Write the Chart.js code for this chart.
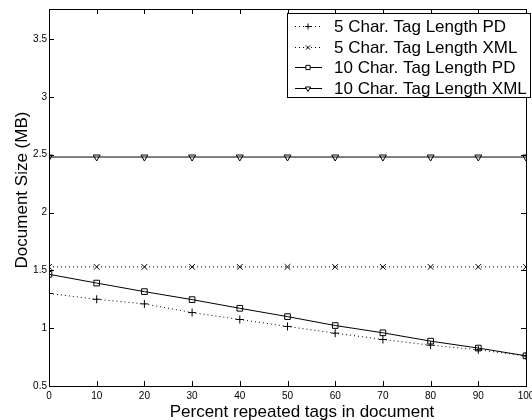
<!DOCTYPE html>
<html>
<head>
<meta charset="utf-8">
<script src="https://cdn.jsdelivr.net/npm/chart.js@4"></script>
<style>
  html, body { margin: 0; padding: 0; background: #fff; }
  #wrap { width: 532px; height: 420px; }
</style>
</head>
<body>
<div id="wrap"><canvas id="grafico" width="532" height="420"></canvas></div>
<script>
// datos
const porcentajes = [0, 10, 20, 30, 40, 50, 60, 70, 80, 90, 100];
const pd5 = [1.30, 1.25, 1.21, 1.135, 1.075, 1.015, 0.957, 0.902, 0.853, 0.813, 0.76];
const xml5 = [1.53, 1.53, 1.53, 1.53, 1.53, 1.53, 1.53, 1.53, 1.53, 1.53, 1.53];
const pd10 = [1.466, 1.39, 1.316, 1.247, 1.172, 1.10, 1.023, 0.96, 0.888, 0.828, 0.761];
const xml10 = [2.48, 2.48, 2.48, 2.48, 2.48, 2.48, 2.48, 2.48, 2.48, 2.48, 2.48];
const etiquetas = ['5 Char. Tag Length PD', '5 Char. Tag Length XML', '10 Char. Tag Length PD', '10 Char. Tag Length XML'];
const ticksY = [0.5, 1, 1.5, 2, 2.5, 3, 3.5];
const tituloX = 'Percent repeated tags in document';
const tituloY = 'Document Size (MB)';

const fuente = 'Liberation Sans, Arial, Helvetica, sans-serif';

function serie(label, valores, punto, dash, rot) {
  return {
    label,
    data: porcentajes.map((x, i) => ({ x, y: valores[i] })),
    borderColor: '#000',
    backgroundColor: 'rgba(0,0,0,0)',
    borderWidth: 1,
    borderDash: dash,
    pointStyle: punto,
    pointRotation: rot || 0,
    pointRadius: 4,
    pointBorderWidth: 1,
    pointBorderColor: '#000',
    pointBackgroundColor: 'rgba(0,0,0,0)',
    tension: 0
  };
}

// marco, ticks interiores, titulos y leyenda
const marco = {
  id: 'marco',
  afterDraw(chart) {
    const { ctx, chartArea: a, scales } = chart;
    ctx.save();
    ctx.strokeStyle = '#000';
    ctx.lineWidth = 1;
    ctx.strokeRect(a.left + 0.5, a.top + 0.5, a.right - a.left, a.bottom - a.top);
    ctx.beginPath();
    scales.x.ticks.forEach(t => {
      const px = Math.round(scales.x.getPixelForValue(t.value)) + 0.5;
      ctx.moveTo(px, a.bottom); ctx.lineTo(px, a.bottom - 5);
      ctx.moveTo(px, a.top); ctx.lineTo(px, a.top + 5);
    });
    scales.y.ticks.forEach(t => {
      const py = Math.round(scales.y.getPixelForValue(t.value)) + 0.5;
      ctx.moveTo(a.left, py); ctx.lineTo(a.left + 5, py);
      ctx.moveTo(a.right, py); ctx.lineTo(a.right - 5, py);
    });
    ctx.stroke();

    // titulos de ejes
    ctx.fillStyle = '#000';
    ctx.font = '17px ' + fuente;
    ctx.textAlign = 'center';
    ctx.textBaseline = 'alphabetic';
    ctx.fillText(tituloX, 302, 417);
    ctx.save();
    ctx.translate(26.5, 190);
    ctx.rotate(-Math.PI / 2);
    ctx.fillText(tituloY, 0, 0);
    ctx.restore();

    // leyenda
    const bx = 287, by = 13, bw = 243, bh = 84;
    ctx.textAlign = 'left';
    ctx.fillStyle = '#fff';
    ctx.fillRect(bx, by, bw, bh);
    ctx.strokeRect(bx + 0.5, by + 0.5, bw, bh);
    ctx.textBaseline = 'middle';
    chart.data.datasets.forEach((ds, i) => {
      const y = Math.round(by + 13 + i * 20.5) + 0.5;
      ctx.strokeStyle = '#000';
      ctx.setLineDash(ds.borderDash || []);
      ctx.beginPath();
      ctx.moveTo(bx + 8, y);
      ctx.lineTo(bx + 35, y);
      ctx.stroke();
      ctx.setLineDash([]);
      ctx.fillStyle = '#fff';
      Chart.helpers.drawPoint(ctx, {
        pointStyle: ds.pointStyle,
        rotation: ds.pointRotation,
        radius: 3,
        borderWidth: 1
      }, bx + 21, y);
      ctx.fillStyle = '#000';
      ctx.fillText(ds.label, bx + 47, y + 1);
    });
    ctx.restore();
  }
};

new Chart(document.getElementById('grafico').getContext('2d'), {
  type: 'line',
  data: {
    datasets: [
      serie(etiquetas[0], pd5, 'cross', [1, 3]),
      serie(etiquetas[1], xml5, 'crossRot', [1, 3]),
      serie(etiquetas[2], pd10, 'rect', []),
      serie(etiquetas[3], xml10, 'triangle', [], 180)
    ]
  },
  options: {
    responsive: false,
    animation: false,
    layout: { padding: { top: 9, right: 6, left: 0, bottom: 0 } },
    plugins: { legend: { display: false }, tooltip: { enabled: false } },
    scales: {
      x: {
        type: 'linear',
        min: 0,
        max: 100,
        ticks: { stepSize: 10, color: '#000', font: { family: fuente, size: 10 }, padding: 4, maxRotation: 0 },
        grid: { display: false, drawTicks: false },
        border: { display: false },
        afterFit: s => { s.height = 34; s.paddingLeft = 0; s.paddingRight = 0; }
      },
      y: {
        type: 'linear',
        min: 0.5,
        max: 3.76,
        afterBuildTicks: s => { s.ticks = ticksY.map(v => ({ value: v })); },
        ticks: { color: '#000', font: { family: fuente, size: 10 }, padding: 2, callback: v => String(v) },
        grid: { display: false, drawTicks: false },
        border: { display: false },
        afterFit: s => { s.width = 49; s.paddingTop = 0; s.paddingBottom = 0; }
      }
    }
  },
  plugins: [marco]
});
</script>
</body>
</html>
